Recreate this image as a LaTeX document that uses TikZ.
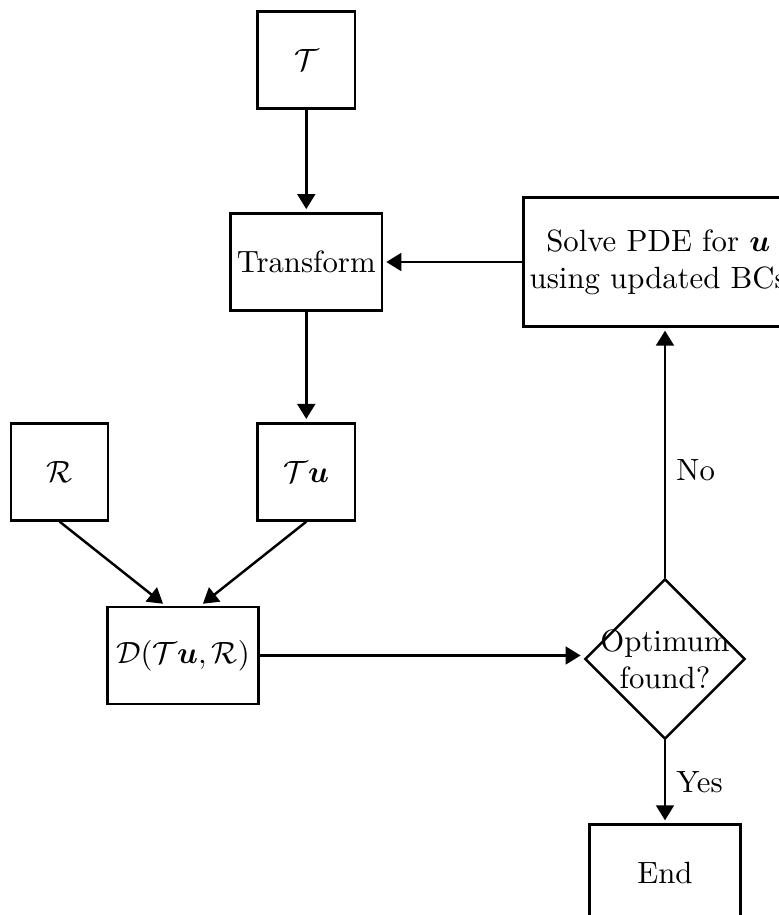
\documentclass[tikz,border=0pt]{standalone}
\usepackage{amsmath}
\usepackage{xcolor}
\usepackage{tikz}
\usetikzlibrary{shapes.geometric, arrows.meta, positioning, calc}
\tikzstyle{block} = [rectangle, minimum width=1.11cm, minimum height=1.11cm, inner sep=2pt, text centered, draw=black, thick]
\tikzstyle{process} = [rectangle, minimum width=1.73cm, minimum height=1.11cm, inner sep=2pt, text centered, draw=black, thick]
\tikzstyle{decision} = [diamond, aspect=1, minimum width=1.83cm, minimum height=1.83cm, inner sep=-2.4pt, align=center, draw=black, thick]
\tikzstyle{arrow} = [thick,-{Triangle[length=4.9pt,width=5.8pt]},shorten >=1pt]

\begin{document}
\begin{tikzpicture}[node distance=1.2cm]
            \useasboundingbox (-3.50,0.686) rectangle (5.40,-9.77);
            \node[block] (t) at (0,0) {$\mathcal{T}$};
            \node[process, below=1.17cm of t] (transform) {Transform};
            \node[block, below=1.26cm of transform] (tu) {$\mathcal{T}\boldsymbol{u}$};
            \node[block, left=1.68cm of tu] (r) {$\mathcal{R}$};
            \coordinate (mid) at ($(r.south)!0.5!(tu.south)$);
            \node[process, below=0.96cm of mid] (dist) {$\mathcal{D}(\mathcal{T}\boldsymbol{u},\mathcal{R})$};
            \node[decision, right=3.70cm of dist, yshift=-0.04cm] (optimum) {Optimum\\found?};
            \node[process, minimum height=1.47cm, align=center, right=1.59cm of transform] (solve) {Solve PDE for $\boldsymbol{u}$\\using updated BCs};
            \node[process, below=0.95cm of optimum] (stop) {End};
            
            \draw[arrow] (t) -- (transform);
            \draw[arrow] (transform) -- (tu);
            \draw[arrow] (r.south) -- ([xshift=-0.2cm]dist.north);
            \draw[arrow] (tu.south) -- ([xshift=0.2cm]dist.north);
            \draw[arrow] (dist.east) -- (dist.east -| optimum.west);
            \draw[arrow] (optimum) -- node[right, pos=0.43] {No} (optimum |- solve.south);
            \draw[arrow] (optimum) -- node[right] {Yes} (stop);
            \draw[arrow] (solve) -- (transform);
        \end{tikzpicture}
\end{document}
